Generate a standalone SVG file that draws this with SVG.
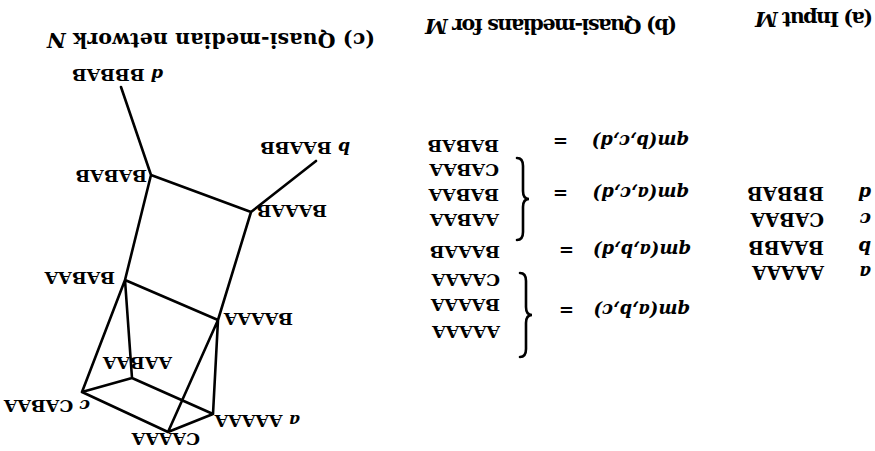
<svg xmlns="http://www.w3.org/2000/svg" width="875" height="451" viewBox="0 0 875 451">
<style>
text{font-family:"DejaVu Serif","Liberation Serif",serif;fill:#000}
.t{font-size:20.5px;font-weight:bold}
.l{font-size:17.5px;font-weight:bold}
.la{font-size:18.5px;font-weight:bold}
.i{font-style:italic}
.f{font-size:18px;font-weight:bold;font-style:italic}
.e{fill:none;stroke:#000;stroke-width:2.6;stroke-linecap:round;stroke-linejoin:round}
.br{fill:none;stroke:#000;stroke-width:2.6;stroke-linecap:round}
</style>
<rect width="875" height="451" fill="#fff"/>
<g id="titles">
<text class="t" x="873" y="12" transform="rotate(180 873 12)" textLength="118">(a) Input <tspan class="i">M</tspan></text>
<text class="t" x="677" y="19" transform="rotate(180 677 19)" textLength="252">(b) Quasi-medians for <tspan class="i">M</tspan></text>
<text class="t" x="375" y="33" transform="rotate(180 375 33)" textLength="328">(c) Quasi-median network <tspan class="i">N</tspan></text>
</g>
<g id="input-M">
<text class="la i" x="871" y="187" transform="rotate(180 871 187)">d</text>
<text class="la" x="824" y="187" transform="rotate(180 824 187)">BBBAB</text>
<text class="la i" x="871" y="213" transform="rotate(180 871 213)">c</text>
<text class="la" x="824" y="213" transform="rotate(180 824 213)">CABAA</text>
<text class="la i" x="871" y="241" transform="rotate(180 871 241)">b</text>
<text class="la" x="824" y="241" transform="rotate(180 824 241)">BAABB</text>
<text class="la i" x="871" y="266" transform="rotate(180 871 266)">a</text>
<text class="la" x="824" y="266" transform="rotate(180 824 266)">AAAAA</text>
</g>
<g id="quasi-medians">
<text class="f" x="689" y="135" transform="rotate(180 689 135)">qm(b,c,d)<tspan x="810" font-style="normal">=</tspan></text>
<text class="f" x="689" y="187" transform="rotate(180 689 187)">qm(a,c,d)<tspan x="810" font-style="normal">=</tspan></text>
<text class="f" x="691" y="244" transform="rotate(180 691 244)">qm(a,b,d)<tspan x="808" font-style="normal">=</tspan></text>
<text class="f" x="690" y="304" transform="rotate(180 690 304)">qm(a,b,c)<tspan x="806" font-style="normal">=</tspan></text>
<text class="l" x="499" y="140" transform="rotate(180 499 140)">BABAB</text>
<text class="l" x="499" y="164" transform="rotate(180 499 164)">CABAA</text>
<text class="l" x="499" y="189" transform="rotate(180 499 189)">BABAA</text>
<text class="l" x="499" y="214" transform="rotate(180 499 214)">AABAA</text>
<text class="l" x="500" y="246" transform="rotate(180 500 246)">BAAAB</text>
<text class="l" x="500" y="274" transform="rotate(180 500 274)">CAAAA</text>
<text class="l" x="500" y="299" transform="rotate(180 500 299)">BAAAA</text>
<text class="l" x="500" y="326" transform="rotate(180 500 326)">AAAAA</text>
<path class="br" d="M517,158 Q523,158 523,166 L523,191 Q523,199 529,199 Q523,199 523,207 L523,232 Q523,240 517,240"/>
<path class="br" d="M520,273 Q526,273 526,281 L526,307 Q526,315 532,315 Q526,315 526,323 L526,349 Q526,357 520,357"/>
</g>
<g id="connectors">
<path class="e" d="M121,87 L151,175 M151,175 L251,212 M251,212 L316,161 M151,175 L125,280 M251,212 L218,320 M125,280 L218,320 M125,280 L132,378 M125,280 L82,392 M132,378 L82,392 M132,378 L213,414 M82,392 L168,432 M168,432 L213,414 M168,432 L218,320 M218,320 L213,414"/>
</g>
<g id="node-d"><text class="l" x="163" y="69" transform="rotate(180 163 69)"><tspan class="i">d</tspan> BBBAB</text></g>
<g id="node-b"><text class="l" x="350" y="142" transform="rotate(180 350 142)"><tspan class="i">b</tspan> BAABB</text></g>
<g id="node-BABAB"><text class="l" x="147" y="170" transform="rotate(180 147 170)">BABAB</text></g>
<g id="node-BAAAB"><text class="l" x="327" y="205" transform="rotate(180 327 205)">BAAAB</text></g>
<g id="node-BABAA"><text class="l" x="115" y="272" transform="rotate(180 115 272)">BABAA</text></g>
<g id="node-BAAAA"><text class="l" x="293" y="313" transform="rotate(180 293 313)">BAAAA</text></g>
<g id="node-AABAA"><text class="l" x="172" y="357" transform="rotate(180 172 357)">AABAA</text></g>
<g id="node-c"><text class="l" x="90" y="400" transform="rotate(180 90 400)"><tspan class="i">c</tspan> CABAA</text></g>
<g id="node-a"><text class="l" x="300" y="415" transform="rotate(180 300 415)"><tspan class="i">a</tspan> AAAAA</text></g>
<g id="node-CAAAA"><text class="l" x="200" y="433" transform="rotate(180 200 433)">CAAAA</text></g>
</svg>
